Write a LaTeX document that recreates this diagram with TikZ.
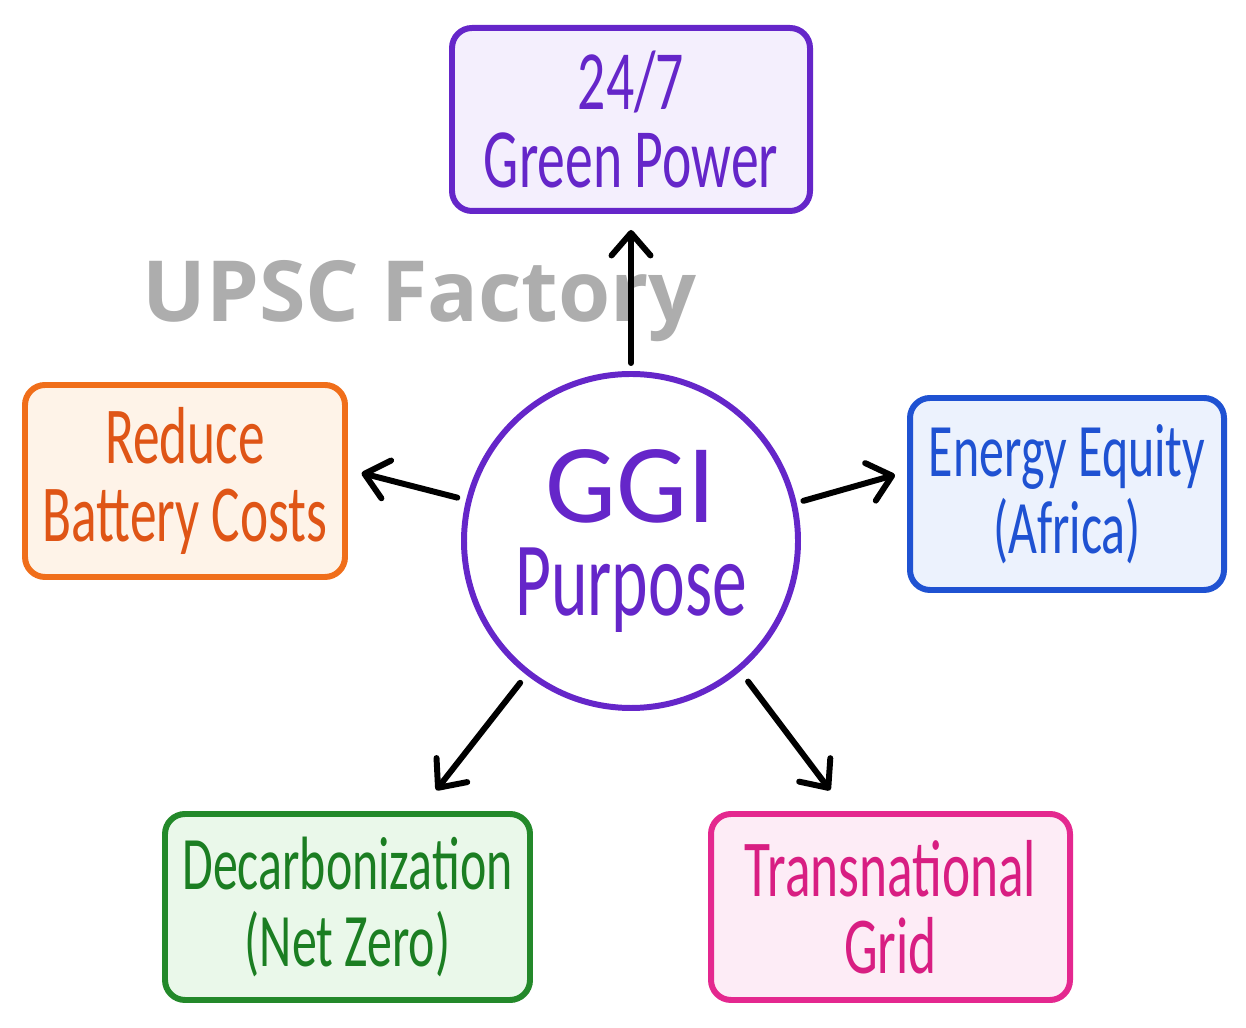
\documentclass[tikz,border=0pt]{standalone}
\usepackage{fontspec}
\setmainfont{Carlito}
\newfontfamily\handfont[FakeStretch=0.66]{Carlito}
\newfontfamily\markfont{Open Sans}
\usetikzlibrary{arrows.meta,shapes}

\definecolor{ggipurple}{HTML}{6526C9}
\definecolor{gpfill}{HTML}{F4EFFD}
\definecolor{rbcline}{HTML}{F06E1A}
\definecolor{rbctext}{HTML}{DF5516}
\definecolor{rbcfill}{HTML}{FEF3E8}
\definecolor{eeqline}{HTML}{1F52D2}
\definecolor{eeqfill}{HTML}{ECF2FD}
\definecolor{dczline}{HTML}{23892A}
\definecolor{dcztext}{HTML}{1B7E22}
\definecolor{dczfill}{HTML}{EAF8EA}
\definecolor{tgrline}{HTML}{E4288F}
\definecolor{tgrtext}{HTML}{D81E82}
\definecolor{tgrfill}{HTML}{FDECF6}

\begin{document}
\begin{tikzpicture}[inner sep=0.4mm,
    card/.style={draw, line width=3.4pt, rounded corners=0.4cm, align=center,
      font=\handfont\fontsize{#1}{44}\selectfont},
    card/.default=46,
    link/.style={line width=3.4pt, line cap=round,
      -{Straight Barb[length=0.45cm, width=0.78cm, line cap=round, line join=round]}}]
\useasboundingbox (0,0) rectangle (24.92,20.56);

% watermark
\node (wmark) [anchor=base west, text=black!32, font=\markfont\bfseries\fontsize{48}{48}\selectfont]
  at (2.8,14.12) {UPSC Factory};

% centre
\node (ggi) [circle, draw=ggipurple, line width=3.4pt, fill=white, text=ggipurple,
  minimum size=6.68cm, align=center, font=\handfont\fontsize{60}{53}\selectfont]
  at (12.62,9.74) {{\normalfont\fontsize{64}{53}\selectfont GGI}\\Purpose};

% boxes
\node (gp) [card=48, draw=ggipurple, fill=gpfill, text=ggipurple,
  minimum width=7.16cm, minimum height=3.66cm] at (12.62,18.17) {24/7\\Green Power};
\node (rbc) [card, draw=rbcline, fill=rbcfill, text=rbctext,
  minimum width=6.4cm, minimum height=3.84cm] at (3.70,10.94) {Reduce\\Battery Costs};
\node (eeq) [card=43, draw=eeqline, fill=eeqfill, text=eeqline,
  minimum width=6.28cm, minimum height=3.84cm] at (21.34,10.68) {Energy Equity\\(Africa)};
\node (dcz) [card=43, draw=dczline, fill=dczfill, text=dcztext,
  minimum width=7.3cm, minimum height=3.72cm] at (6.95,2.42) {Decarbonization\\(Net Zero)};
\node (tgr) [card, draw=tgrline, fill=tgrfill, text=tgrtext,
  minimum width=7.18cm, minimum height=3.72cm] at (17.81,2.42) {Transnational\\Grid};

% arrows
\draw [link, shorten <=0.16cm, shorten >=0.32cm] (ggi.90) -- (gp.south);
\draw [link, shorten <=0.18cm, shorten >=0.28cm] (ggi.166) -- (rbc.4);
\draw [link, shorten <=0.14cm, shorten >=0.25cm] (ggi.13) -- (eeq.172);
\draw [link, shorten <=0.2cm, shorten >=0.53cm] (ggi.232) -- (dcz.53);
\draw [link, shorten <=0.26cm, shorten >=0.52cm] (ggi.310) -- (tgr.115);
\end{tikzpicture}
\end{document}
